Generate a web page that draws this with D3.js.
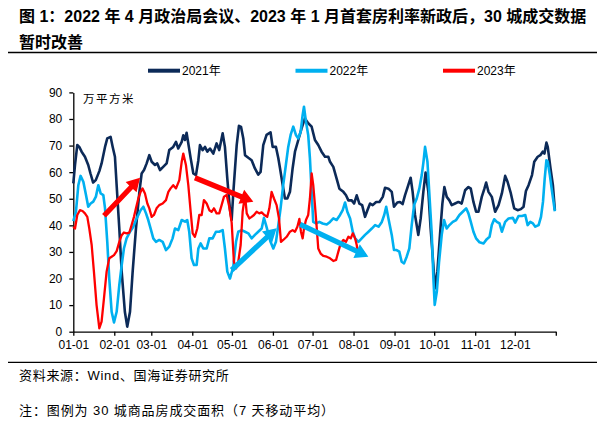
<!DOCTYPE html>
<html><head><meta charset="utf-8">
<script src="https://cdn.jsdelivr.net/npm/d3@7"></script>
<style>
html,body{margin:0;padding:0;background:#fff;}
svg{display:block;font-family:"Liberation Sans","Noto Sans CJK SC",Arial,sans-serif;}
</style></head>
<body><svg id="c" width="611" height="423"></svg>
<script>
// ---- data ----
const titleLines = ["图 1：2022 年 4 月政治局会议、2023 年 1 月首套房利率新政后，30 城成交数据", "暂时改善"];
const seriesNames = ["2021年", "2022年", "2023年"];
const seriesColors = ["#0c2a58", "#00b0f0", "#ff0000"];
const monthTickDays = [0, 31, 59, 90, 120, 151, 181, 212, 243, 273, 304, 334, 365];
const monthTickLabels = ["01-01","02-01","03-01","04-01","05-01","06-01","07-01","08-01","09-01","10-01","11-01","12-01",""];
const yTicks = [0,10,20,30,40,50,60,70,80,90];
const unitLabel = "万平方米";
const sourceText = "资料来源：Wind、国海证券研究所";
const noteText = "注：图例为 30 城商品房成交面积（7 天移动平均）";

// [day of year, value]
const s2021 = [[0,55.8],[1.3,62.7],[3,70.2],[4.5,69.5],[6.3,67.7],[8.8,65.8],[11.3,62.7],[13,59.5],[15,56.1],[17,57],[19.7,60.4],[21.4,63.3],[24,69.5],[25.7,72.7],[28.2,73.3],[29.8,69.5],[31.5,65.8],[32.8,55],[34.8,38.8],[36.6,22.6],[39,7.5],[40.8,1.9],[42.9,7.5],[44.9,22.6],[47.4,38.8],[50,52.6],[51.7,59.5],[53.5,60.8],[55.5,63.3],[57.5,66.4],[59.3,63.9],[61.8,62.7],[63.5,63.3],[65.6,60.8],[68,62],[70.6,63.3],[72.6,68.3],[75.6,69.5],[77.7,71.4],[79.4,68.9],[82,71.4],[83.2,73.9],[84.5,72.1],[85.7,74.8],[87,70.8],[88.8,65.2],[90.8,59.5],[92.8,58.9],[94.6,64.5],[95.8,70.2],[97.8,68.3],[99.6,69.5],[101.4,67.7],[103.4,68.9],[105.9,67],[108.4,70.8],[110.4,68.3],[113,74.6],[114.7,69.5],[116.5,57.6],[118.5,46],[119.8,42],[121,52],[123.6,70.2],[125.3,77.4],[126.9,77],[128.6,72.7],[129.9,66.4],[132.4,65.4],[134.9,64.5],[137.4,61.4],[139.9,59.1],[141.7,60.1],[143.7,70.2],[146.2,74],[149.2,75],[150.8,69.5],[153.3,69.5],[155.1,65.2],[156.4,61.4],[158.4,55.2],[160.1,50.1],[161.9,50.1],[163.9,52.6],[165.9,61.4],[167.7,67.7],[170.2,72.1],[172.7,76.5],[175.2,80.2],[177.7,78.4],[180.3,77.1],[182.8,72.1],[185.3,70.2],[187.8,67.7],[190.4,65.8],[192.9,65.8],[194.2,63.9],[196.7,62],[199.2,57.6],[201.3,53.8],[204.3,52.6],[206.3,51.3],[208.1,49.4],[210.6,49.4],[212.4,48.2],[214.4,51.3],[216.4,48.2],[218.5,47.6],[220.7,43.2],[222.5,45.7],[224.5,48.2],[226.5,47.6],[229.1,48.8],[231.6,48.8],[234.1,50.7],[235.8,54.1],[238.4,53.8],[240.9,52.6],[242.6,47],[245.1,48.6],[247.1,48.8],[249.1,48],[250.9,51.3],[253.4,55.1],[255.2,57.9],[256.7,52.6],[258.5,43.9],[261,36.4],[262.8,42.6],[264.8,52.6],[266.5,59.9],[268.6,52.6],[270.3,38.8],[272.4,25],[273.6,16.3],[275.4,22.5],[277.4,36.4],[279.2,48.2],[280.7,54.4],[282.5,50.7],[284.5,49.4],[286.3,47.6],[288.8,48.2],[291.3,48.8],[293.8,48.2],[296.4,53.2],[298.9,54.4],[300.7,53.8],[302.7,48.8],[304.7,45.1],[306.5,45.1],[309,50.7],[311,53.8],[312.3,56.1],[314.1,52.6],[316.6,50.7],[319.1,45.1],[321.7,47.6],[324.2,52],[326.7,58.6],[328.5,56.4],[331,52],[333.5,46.4],[336.1,45.7],[338.6,46.1],[340.6,47],[342.4,52.9],[344.4,55.1],[347,58.9],[348.7,63.9],[351.3,65.8],[353.3,66.4],[355.1,67.7],[356.4,67],[357.9,71.1],[358.9,69.5],[361,61.4],[362.8,55.1],[364.3,45.7]];

const s2022 = [[0,41.6],[2,45.1],[3.8,55.1],[5.5,58.6],[7.6,56.4],[9.6,51.4],[11.3,47],[13.1,48.2],[15.1,48.9],[17.1,50.8],[18.9,55.1],[20.7,52],[22.7,51.4],[24,46.4],[25.7,33.8],[27.2,20],[29,7.5],[30.8,3.5],[32.8,7.5],[34.8,17.5],[36.6,25],[38.3,31.3],[40.3,35.1],[42.9,37.6],[45.4,39.5],[47.4,42],[49.2,43.9],[50.9,45.7],[53,47],[55,44.5],[56.7,42],[58.5,38.8],[60.5,35.1],[62.5,33.8],[65,34.5],[67.6,33.8],[70.1,30.7],[72.6,32],[75.1,35.1],[76.9,38.8],[79.4,38.2],[82,42],[84.5,41.4],[86.2,42],[87.7,37.6],[89.5,27.6],[91.3,25.1],[93.3,25.1],[94.6,31.3],[96.3,33.2],[98.3,31.3],[100.9,31.3],[102.9,35.1],[105.4,35.1],[107.9,37.6],[110.4,37.6],[113,38.2],[114.7,31.3],[116.5,22.6],[118.5,20],[121,24.4],[123.1,33.8],[124.8,37.6],[127.4,38.2],[129.9,37.6],[132.4,37],[134.9,35.1],[137.4,36.4],[139.9,37.6],[142.5,38.8],[144.2,42.8],[145.8,40.1],[147.5,37],[149.2,33.8],[151.3,31.3],[153.3,33.8],[155.1,40.1],[156.8,46.4],[158.8,55.2],[160.8,62.7],[162.6,69.5],[164.4,74],[166.4,77.1],[168.4,74],[170.2,72.7],[172,75.2],[173.5,81.5],[174.5,84.6],[176,79],[177.7,74],[179,65.2],[180.3,52.6],[181.5,41.3],[183.6,40.7],[186.1,41.3],[188.6,40.7],[191.7,40.3],[194.2,41.3],[196.7,42.6],[199.2,42],[201.8,43.9],[203.8,45.7],[205.6,48.6],[207.3,45.1],[209.4,42.6],[211.4,37.6],[213.2,35.1],[215.7,33.8],[218.2,35.1],[220.7,36.4],[223.3,37.6],[225.8,38.8],[228.3,40.1],[230.9,39.5],[233.4,41.3],[235.2,43.9],[236.7,47],[238.4,42.6],[240.9,36.4],[242.6,30.7],[244.6,30.7],[246.6,30.1],[248.4,26.3],[250.2,25.7],[252.2,28.2],[254.2,31.3],[256,40.1],[257.8,47.6],[259.8,50.1],[261.8,53.9],[263.6,58.9],[264.9,63.9],[266.1,69.5],[267.9,63.9],[269.4,51.4],[271.2,36.4],[272.4,20.1],[273.4,10.1],[275,15.1],[276.7,26.3],[278.7,36.4],[280.5,42],[282.5,38.8],[284.5,40.1],[287.1,41.3],[289.6,42],[292.1,43.9],[294.6,45.1],[297.2,46.4],[298.9,44.5],[300.7,41.3],[302.7,37.6],[304.7,35.1],[307.3,33.6],[310.3,33.2],[312.8,34.8],[314.9,35.7],[316.6,40.1],[318.4,42.3],[320.4,41.3],[322.4,40.7],[324.2,37.6],[326.7,41.3],[329.3,42.6],[332.5,42.8],[334.3,41],[336.8,43.5],[339.4,43.5],[341.9,43.9],[343.7,40.1],[345.7,41.3],[347.7,40.7],[349.5,39.5],[352,40.1],[353.8,43.2],[355.3,48.8],[356.6,57.6],[357.9,64.5],[358.9,63.9],[360.5,58.9],[362.2,52.6],[364.3,45.3]];

const s2023 = [[0,39.5],[1.3,38.8],[3,43.9],[5,45.7],[7,45.4],[8.8,44.5],[10.6,43.2],[12.1,38.8],[13.9,32.6],[15.6,22.6],[17.6,10],[19.7,1.3],[21.4,3.8],[23.2,12.5],[25.2,22.6],[27.2,27.6],[29,28.2],[30.8,28.8],[32.8,30.3],[34.8,33.8],[36.6,36.3],[38.3,37.3],[40.3,37],[42.4,37.3],[44.1,40.1],[45.9,43.2],[47.4,46.4],[49.2,50.1],[50.9,52.6],[52.4,53.9],[54.2,52],[56,48.2],[57.5,46.4],[59.3,43.2],[61,43.9],[63,46.4],[65,47.6],[67.6,48.2],[70.1,49.5],[71.9,52.6],[73.6,53.9],[75.6,55.1],[77.7,53.9],[80.2,57],[82,63.9],[83.2,67],[85.2,62.7],[87,55.1],[88.8,45.1],[90.3,37],[92,35.7],[93.8,38.8],[95.3,43.9],[97.1,43.9],[98.8,49.5],[100.9,48.2],[102.9,45.7],[104.6,45.1],[106.4,46.4],[108.4,44.5],[110.4,44.5],[112.2,47.6],[114,50.8],[116,51.4],[118,47],[119.8,41],[121.5,26.3],[123.1,23.8],[124.8,26.3],[126.6,32.6],[128.1,45.1],[129.9,51.4],[131.2,44.5],[133.2,42.6],[134.9,43.2],[136.7,43.9],[138.7,45.1],[140.7,44.5],[142.5,44.9],[144.5,43.9],[146.7,43.2],[148.3,46.4],[150,52.6],[151.8,50.1],[153.8,47.6],[155.6,42.6],[157.1,33.8],[158.8,34.5],[161.4,35.7],[163.9,37.6],[165.9,38.2],[167.7,37.6],[169.5,39.5],[171,42.4],[172.2,37.6],[173.5,35.1],[174.5,38.8],[176,42],[177.7,43.9],[179,50.1],[180.3,59.5],[181.5,55.2],[182.8,47.6],[184,40.1],[185.3,31.3],[187.1,29.4],[189.1,28.5],[191.7,28.2],[194.2,27.6],[196.7,26.6],[198.8,27],[200.5,30.1],[202.3,33.2],[204.3,34.5],[206.3,33.8],[208.1,35.7],[209.9,35.1],[211.4,37],[213.2,35.1],[214.4,32.6],[215.7,28.2]];

// annotation arrows: [day, value] start -> end, series index for colour
const arrowFrom = [[23.2,43.6],[92,57.9],[119.8,23.2],[171.5,40.4]];
const arrowTo   = [[50.5,57.9],[136.2,48.9],[153.8,38.9],[223.2,28.2]];
const arrowColorIdx = [2,2,1,1];

// ---- layout ----
const svg = d3.select("#c");
const L = 73.3, R = 555.8, T = 92.4, B = 331.7;
const x = d3.scaleLinear().domain([0,365]).range([L,R]);
const y = d3.scaleLinear().domain([0,90]).range([B,T]);

// title
svg.append("g").selectAll("text").data(titleLines).join("text")
  .attr("x", 19).attr("y", (d,i)=> 22 + i*25.5)
  .attr("font-size", 16).attr("font-weight", "bold").attr("fill", "#000")
  .text(d=>d);
svg.append("line").attr("x1",8).attr("x2",597).attr("y1",52.5).attr("y2",52.5)
  .attr("stroke","#000").attr("stroke-width",1.5);

// legend
const lg = svg.append("g");
seriesNames.forEach((n,i)=>{
  const x0 = 148 + i*147.5;
  lg.append("line").attr("x1",x0).attr("x2",x0+32).attr("y1",70.7).attr("y2",70.7)
    .attr("stroke",seriesColors[i]).attr("stroke-width",4);
  lg.append("text").attr("x",x0+34).attr("y",75).attr("font-size",12).attr("fill","#000").text(n);
});

// axes
const yAxis = svg.append("g").attr("transform",`translate(${L},0)`)
  .call(d3.axisLeft(y).tickValues(yTicks).tickSize(4).tickSizeOuter(0).tickPadding(7));
const xAxis = svg.append("g").attr("transform",`translate(0,${B})`)
  .call(d3.axisBottom(x).tickValues(monthTickDays).tickSize(4).tickSizeOuter(0).tickPadding(5)
    .tickFormat((d,i)=>monthTickLabels[i]));
[yAxis,xAxis].forEach(a=>{
  a.selectAll("text").attr("font-size",12).attr("fill","#000")
    .attr("font-family",'"Liberation Sans",Arial,sans-serif');
  a.selectAll("line,path").attr("stroke","#000").attr("stroke-width",1.3);
});

// unit label
svg.append("text").attr("x",83).attr("y",103).attr("font-size",11.5)
  .attr("letter-spacing",1.5).attr("fill","#000")
  .attr("font-family",'"Noto Sans CJK SC",sans-serif').text(unitLabel);

// series lines
const line = d3.line().x(d=>x(d[0])).y(d=>y(d[1]));
[s2021,s2022,s2023].forEach((s,i)=>{
  svg.append("path").datum(s).attr("d",line).attr("fill","none")
    .attr("stroke",seriesColors[i]).attr("stroke-width", i===2 ? 2.3 : 2.6)
    .attr("stroke-linejoin","round");
});

// arrows
arrowFrom.forEach((f,i)=>{
  const x1=x(f[0]), y1=y(f[1]), x2=x(arrowTo[i][0]), y2=y(arrowTo[i][1]);
  const dx=x2-x1, dy=y2-y1, len=Math.hypot(dx,dy), ux=dx/len, uy=dy/len;
  const headL=13, headW=7.5, shaft=2.6;
  const bx=x2-ux*headL, by=y2-uy*headL, px=-uy, py=ux;
  const pts=[[x1+px*shaft,y1+py*shaft],[bx+px*shaft,by+py*shaft],[bx+px*headW,by+py*headW],[x2,y2],
             [bx-px*headW,by-py*headW],[bx-px*shaft,by-py*shaft],[x1-px*shaft,y1-py*shaft]];
  svg.append("polygon").attr("points",pts.map(p=>p.join(",")).join(" "))
    .attr("fill",seriesColors[arrowColorIdx[i]]);
});

// footer
svg.append("line").attr("x1",8).attr("x2",597).attr("y1",362.3).attr("y2",362.3)
  .attr("stroke","#000").attr("stroke-width",1.3);
svg.append("text").attr("x",19).attr("y",380).attr("font-size",13).attr("letter-spacing",0.7).attr("fill","#000").text(sourceText);
svg.append("text").attr("x",19).attr("y",415).attr("font-size",13).attr("letter-spacing",0.9).attr("fill","#000").text(noteText);
</script></body></html>
